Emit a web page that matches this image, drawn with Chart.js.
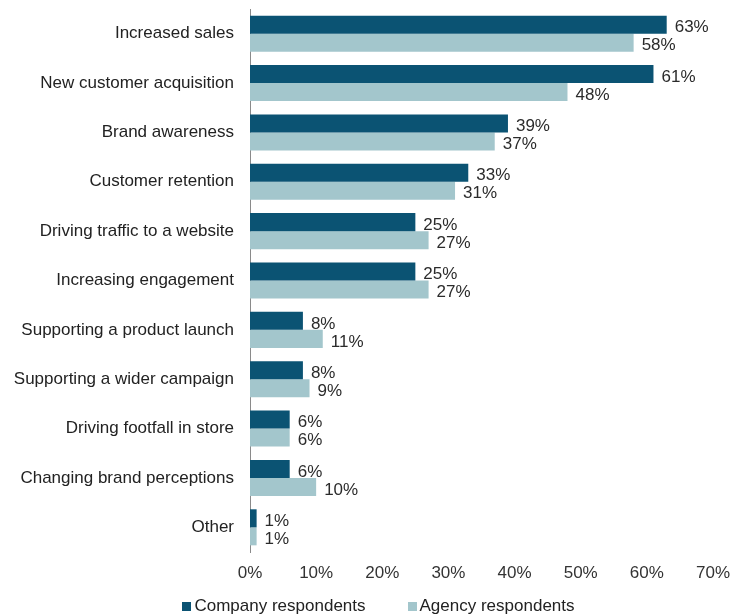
<!DOCTYPE html>
<html>
<head>
<meta charset="utf-8">
<script src="https://cdn.jsdelivr.net/npm/chart.js@4/dist/chart.umd.min.js"></script>
<style>
  html, body { margin: 0; padding: 0; background: #fff; }
  #wrap { position: relative; width: 733px; height: 616px; }
  #legend {
    position: absolute; left: 24px; right: 0; top: 595px;
    display: flex; justify-content: center;
    font: 17px 'Liberation Sans', Arial, sans-serif; color: #222; line-height: 22px;
  }
  #legend .item { display: flex; align-items: center; margin: 0 21px; }
  #legend .box { width: 9px; height: 9px; margin-right: 3px; }
</style>
</head>
<body>
<div id="wrap">
  <canvas id="chart"></canvas>
  <div id="legend"></div>
</div>
<script>
const categories = [
  "Increased sales",
  "New customer acquisition",
  "Brand awareness",
  "Customer retention",
  "Driving traffic to a website",
  "Increasing engagement",
  "Supporting a product launch",
  "Supporting a wider campaign",
  "Driving footfall in store",
  "Changing brand perceptions",
  "Other"
];
const companyValues = [63, 61, 39, 33, 25, 25, 8, 8, 6, 6, 1];
const agencyValues = [58, 48, 37, 31, 27, 27, 11, 9, 6, 10, 1];
const xTicks = [0, 10, 20, 30, 40, 50, 60, 70];

const FONT = "'Liberation Sans', Arial, sans-serif";
const DARK = "#0b5373";
const LIGHT = "#a3c6cc";

// value labels at the end of every bar
const barLabels = {
  id: "barLabels",
  afterDatasetsDraw(chart) {
    const ctx = chart.ctx;
    ctx.save();
    ctx.font = "17px " + FONT;
    ctx.fillStyle = "#2b2b2b";
    ctx.textAlign = "left";
    ctx.textBaseline = "middle";
    chart.data.datasets.forEach((ds, i) => {
      chart.getDatasetMeta(i).data.forEach((bar, j) => {
        ctx.fillText(ds.data[j] + "%", bar.x + 8, bar.y + 3);
      });
    });
    ctx.restore();
  }
};

const chart = new Chart(document.getElementById("chart"), {
  type: "bar",
  data: {
    labels: categories,
    datasets: [
      {
        label: "Company respondents",
        data: companyValues,
        backgroundColor: DARK,
        categoryPercentage: 0.73,
        barPercentage: 1
      },
      {
        label: "Agency respondents",
        data: agencyValues,
        backgroundColor: LIGHT,
        categoryPercentage: 0.73,
        barPercentage: 1
      }
    ]
  },
  options: {
    indexAxis: "y",
    responsive: true,
    maintainAspectRatio: false,
    animation: false,
    layout: { padding: { top: 9, right: 20, bottom: 33, left: 0 } },
    scales: {
      x: {
        min: 0,
        max: 70,
        afterBuildTicks: scale => { scale.ticks = xTicks.map(v => ({ value: v })); },
        afterFit: scale => {
          scale.height = 31;
          scale.paddingLeft = 0;
          scale.paddingRight = 0;
        },
        grid: { display: false, drawTicks: false },
        border: { display: false },
        ticks: {
          padding: 11,
          color: "#333",
          font: { family: FONT, size: 17 },
          callback: v => v + "%"
        }
      },
      y: {
        afterFit: scale => {
          scale.width = 250;
          scale.paddingTop = 0;
          scale.paddingBottom = 0;
        },
        grid: { display: false, drawTicks: false },
        border: { display: true, color: "#8a8a8a", width: 1 },
        ticks: {
          padding: 16,
          color: "#222",
          font: { family: FONT, size: 17 }
        }
      }
    },
    plugins: {
      legend: { display: false },
      tooltip: { enabled: false }
    }
  },
  plugins: [barLabels]
});

// legend row under the axis
const legend = document.getElementById("legend");
chart.data.datasets.forEach(ds => {
  const item = document.createElement("div");
  item.className = "item";
  item.innerHTML = `<span class="box" style="background:${ds.backgroundColor}"></span><span>${ds.label}</span>`;
  legend.appendChild(item);
});
</script>
</body>
</html>
